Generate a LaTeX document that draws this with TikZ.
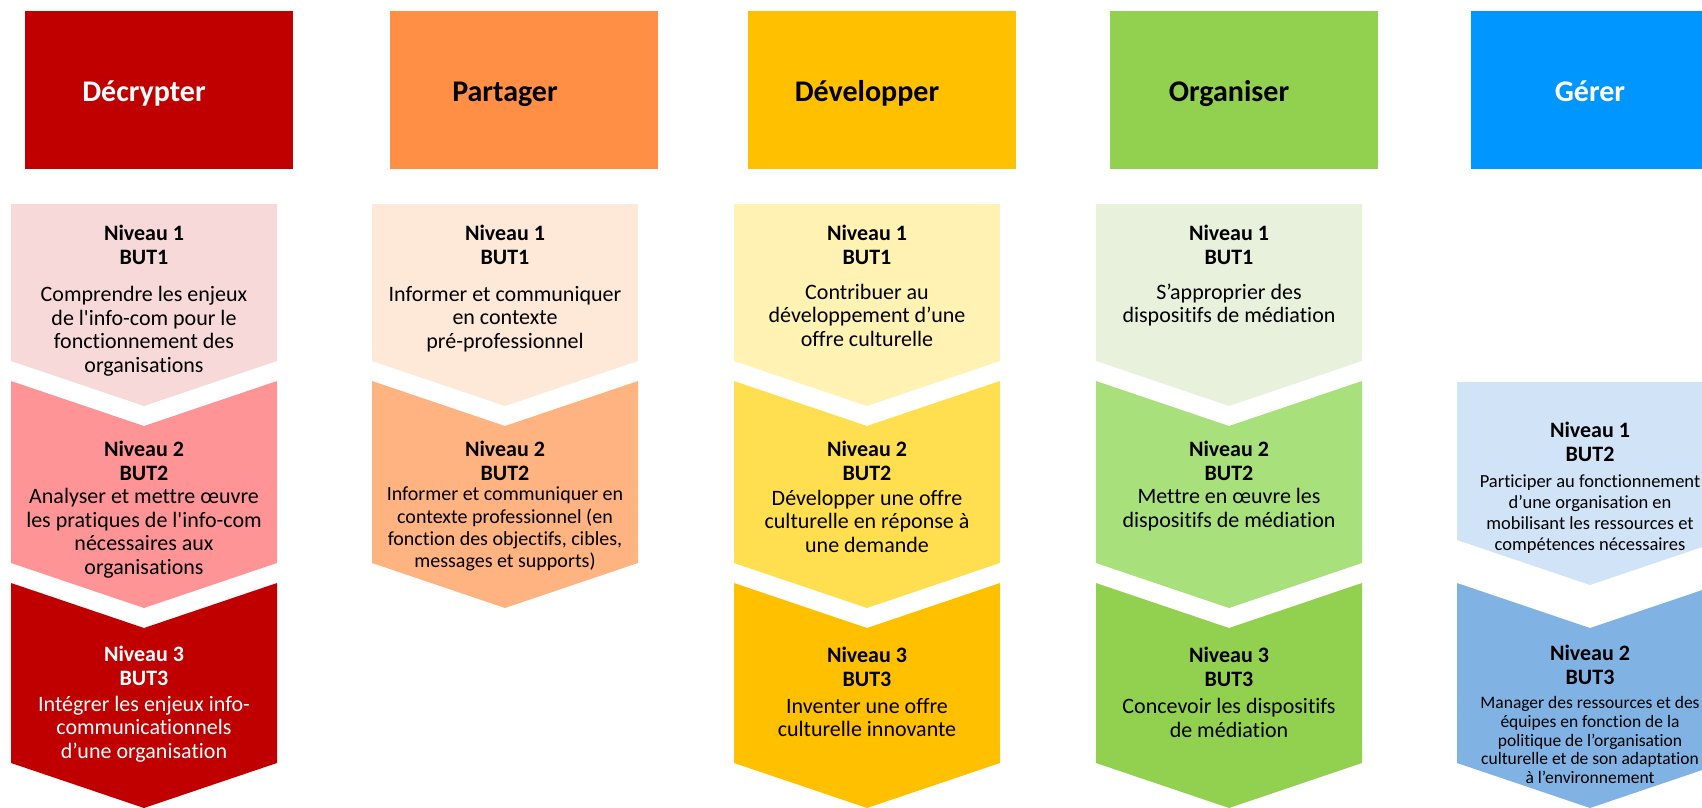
\documentclass[tikz,border=0pt]{standalone}
\usepackage{fontspec}
\setmainfont{Carlito}[Ligatures={TeX,NoCommon}]
\definecolor{rA}{HTML}{C00000}
\definecolor{rB}{HTML}{F7D9D9}
\definecolor{rC}{HTML}{FF9497}
\definecolor{oA}{HTML}{FF8F45}
\definecolor{oB}{HTML}{FEE8D7}
\definecolor{oC}{HTML}{FFB381}
\definecolor{yA}{HTML}{FFC000}
\definecolor{yB}{HTML}{FFF2B3}
\definecolor{yC}{HTML}{FFDF4F}
\definecolor{gA}{HTML}{92D050}
\definecolor{gB}{HTML}{E8F1DC}
\definecolor{gC}{HTML}{A8E07B}
\definecolor{bA}{HTML}{0096FF}
\definecolor{bB}{HTML}{D1E3F6}
\definecolor{bC}{HTML}{80B3E4}
\newcommand\chevFlat[4]{\fill[#4] ({#1-133},#2) -- ({#1+133},#2) -- ({#1+133},#3) -- (#1,{#3+45}) -- ({#1-133},#3) -- cycle;}
\newcommand\chevNotch[4]{\fill[#4] ({#1-133},#2) -- (#1,{#2+45}) -- ({#1+133},#2) -- ({#1+133},#3) -- (#1,{#3+45}) -- ({#1-133},#3) -- cycle;}
\tikzset{
  hdrbox/.style={minimum width=268pt, minimum height=158pt, inner sep=0pt, draw=none},
  hdrtxt/.style={font=\fontsize{30}{36}\selectfont\bfseries, inner sep=0pt, text height=21pt, text depth=6pt},
  lvl/.style={font=\fontsize{22}{24}\selectfont\bfseries, align=center, inner sep=0pt},
  body/.style={font=\fontsize{22}{23.5}\selectfont, align=center, inner sep=0pt},
  bodyS/.style={font=\fontsize{20}{22.3}\selectfont, align=center, inner sep=0pt},
  bodyB/.style={font=\fontsize{18.5}{21}\selectfont, align=center, inner sep=0pt},
  bodyC/.style={font=\fontsize{17.5}{18.8}\selectfont, align=center, inner sep=0pt}
}
\begin{document}
\begin{tikzpicture}[x=1pt,y=-1pt]
\useasboundingbox (0,0) rectangle (1702,808);
\clip (0,0) rectangle (1702,808);
% ---------- column 1
\node[hdrbox, fill=rA] (h1) at (159,90) {};
\node[hdrtxt, text=white] (t1) at (144,93.5) {Décrypter};
\chevFlat{144}{204}{361}{rB}
\chevNotch{144}{381}{563}{rC}
\chevNotch{144}{583}{763}{rA}
\node[lvl] (a11) at (144,245) {Niveau 1\\BUT1};
\node[body] (b11) at (144,331) {Comprendre les enjeux\\de l\textquotesingle info-com pour le\\fonctionnement des\\organisations};
\node[lvl] (a12) at (144,460.5) {Niveau 2\\BUT2};
\node[body] (b12) at (144,533) {Analyser et mettre œuvre\\les pratiques de l\textquotesingle info-com\\nécessaires aux\\organisations};
\node[lvl, text=white] (a13) at (144,665.5) {Niveau 3\\BUT3};
\node[body, text=white] (b13) at (144,729) {Intégrer les enjeux info-\\communicationnels\\d’une organisation};
% ---------- column 2
\node[hdrbox, fill=oA] (h2) at (524,90) {};
\node[hdrtxt] (t2) at (505,93.5) {Partager};
\chevFlat{505}{204}{361}{oB}
\chevNotch{505}{381}{563}{oC}
\node[lvl] (a21) at (505,245) {Niveau 1\\BUT1};
\node[body] (b21) at (505,319) {Informer et communiquer\\en contexte\\pré-professionnel};
\node[lvl] (a22) at (505,460.5) {Niveau 2\\BUT2};
\node[bodyS] (b22) at (505,529) {Informer et communiquer en\\contexte professionnel (en\\fonction des objectifs, cibles,\\messages et supports)};
% ---------- column 3
\node[hdrbox, fill=yA] (h3) at (882,90) {};
\node[hdrtxt] (t3) at (867,93.5) {Développer};
\chevFlat{867}{204}{361}{yB}
\chevNotch{867}{381}{563}{yC}
\chevNotch{867}{583}{763}{yA}
\node[lvl] (a31) at (867,245) {Niveau 1\\BUT1};
\node[body] (b31) at (867,315) {Contribuer au\\développement d’une\\offre culturelle};
\node[lvl] (a32) at (867,460.5) {Niveau 2\\BUT2};
\node[body] (b32) at (867,521) {Développer une offre\\culturelle en réponse à\\une demande};
\node[lvl] (a33) at (867,666.5) {Niveau 3\\BUT3};
\node[body] (b33) at (867,717.5) {Inventer une offre\\culturelle innovante};
% ---------- column 4
\node[hdrbox, fill=gA] (h4) at (1244,90) {};
\node[hdrtxt] (t4) at (1229,93.5) {Organiser};
\chevFlat{1229}{204}{361}{gB}
\chevNotch{1229}{381}{563}{gC}
\chevNotch{1229}{583}{763}{gA}
\node[lvl] (a41) at (1229,245) {Niveau 1\\BUT1};
\node[body] (b41) at (1229,305) {S’approprier des\\dispositifs de médiation};
\node[lvl] (a42) at (1229,460.5) {Niveau 2\\BUT2};
\node[body] (b42) at (1229,509.5) {Mettre en œuvre les\\dispositifs de médiation};
\node[lvl] (a43) at (1229,666.5) {Niveau 3\\BUT3};
\node[body] (b43) at (1229,718) {Concevoir les dispositifs\\de médiation};
% ---------- column 5
\node[hdrbox, fill=bA] (h5) at (1605,90) {};
\node[hdrtxt, text=white] (t5) at (1590,93.5) {Gérer};
\chevFlat{1590}{382}{540}{bB}
\chevNotch{1590}{583}{763}{bC}
\node[lvl] (a51) at (1590,441.5) {Niveau 1\\BUT2};
\node[bodyB] (b51) at (1590,514) {Participer au fonctionnement\\d’une organisation en\\mobilisant les ressources et\\compétences nécessaires};
\node[lvl] (a52) at (1590,665) {Niveau 2\\BUT3};
\node[bodyC] (b52) at (1590,740) {Manager des ressources et des\\équipes en fonction de la\\politique de l’organisation\\culturelle et de son adaptation\\à l’environnement};
\end{tikzpicture}
\end{document}
